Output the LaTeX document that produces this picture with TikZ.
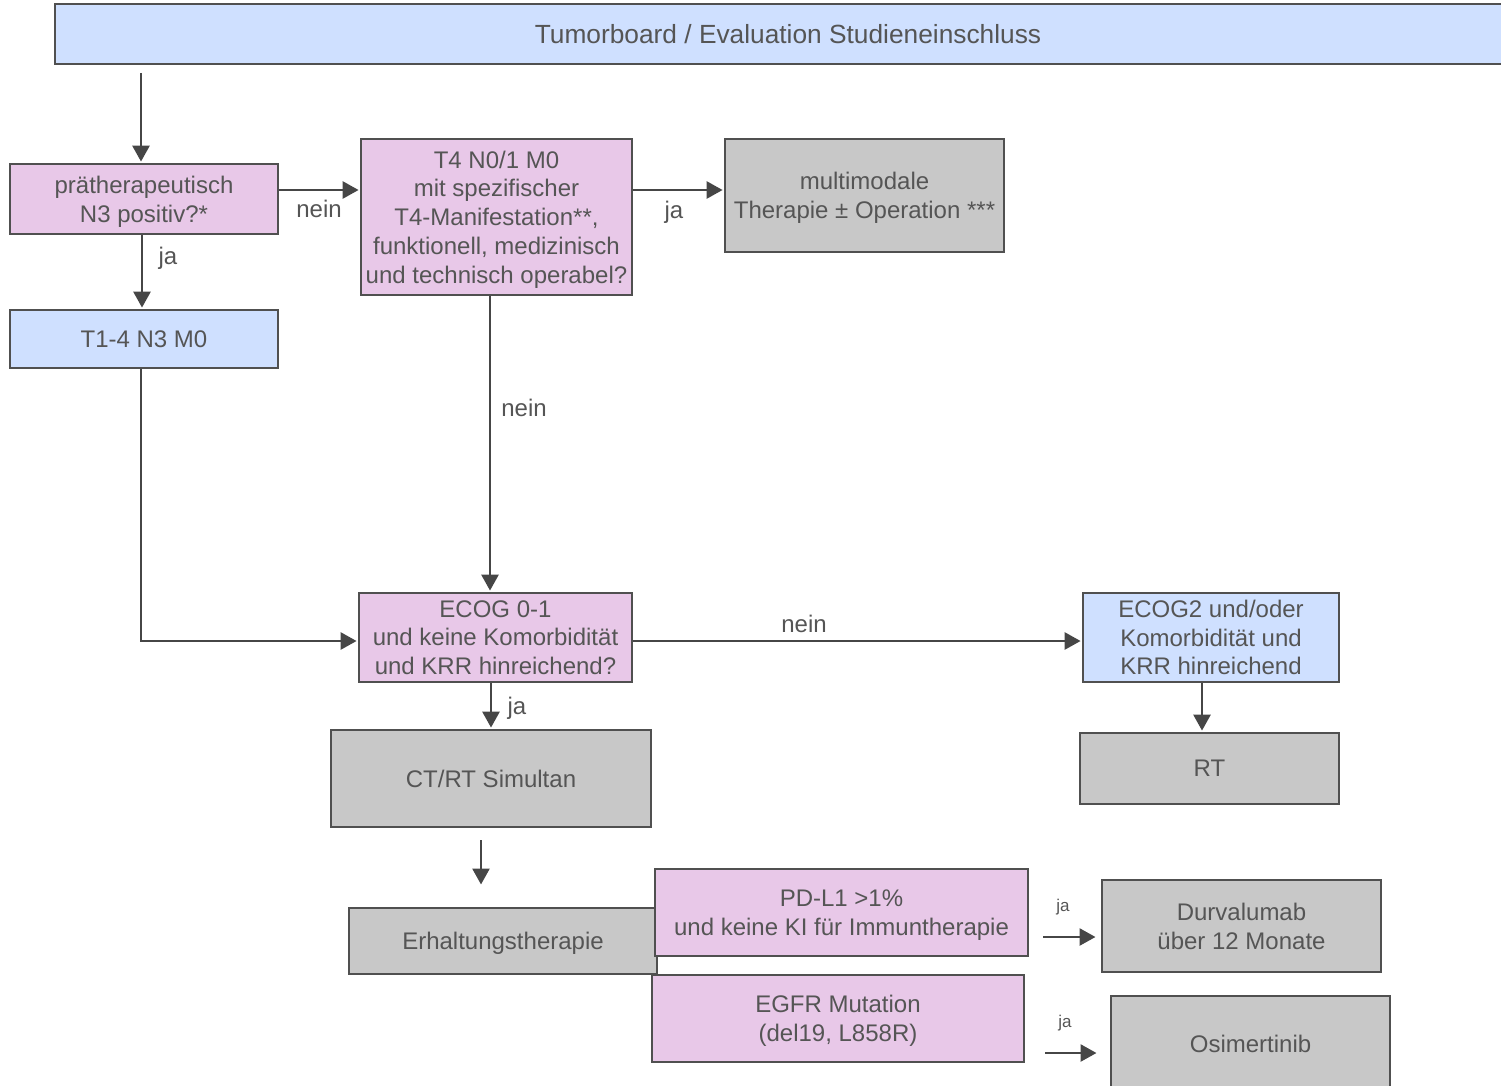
\documentclass[tikz,border=0pt]{standalone}
\usepackage{fontspec}
\setmainfont{Liberation Sans}
\usetikzlibrary{arrows.meta,calc}
\definecolor{boxblue}{RGB}{207,224,255}
\definecolor{boxpink}{RGB}{232,200,232}
\definecolor{boxgray}{RGB}{200,200,200}
\definecolor{ink}{RGB}{80,80,80}
\definecolor{wire}{RGB}{70,70,70}
\definecolor{txt}{RGB}{85,85,85}
\begin{document}
\begin{tikzpicture}[x=1pt,y=-1pt,
  box/.style={draw=ink,line width=1.8pt,inner sep=0pt,align=center,text=txt,
    text depth=0pt,font=\fontsize{24}{28.7}\selectfont},
  bluebox/.style={box,fill=boxblue},
  pinkbox/.style={box,fill=boxpink},
  graybox/.style={box,fill=boxgray},
  sz/.style 2 args={minimum width=#1pt,minimum height=#2pt},
  arr/.style={draw=wire,line width=2.7pt,shorten >=1.5pt,-{Triangle[length=16pt,width=17pt]}},
  lbl/.style={text=txt,inner sep=0pt,font=\fontsize{24}{28}\selectfont},
  minilbl/.style={text=txt,inner sep=0pt,font=\fontsize{17}{20}\selectfont}]
\useasboundingbox (0,0) rectangle (1501,1086);
\clip (0,0) rectangle (1501,1086);

% boxes
\node[bluebox,sz={1466}{60},font=\fontsize{26.3}{30}\selectfont] (board) at (788,34)
  {Tumorboard / Evaluation Studieneinschluss};
\node[pinkbox,sz={268}{70}] (pra) at (144,199) {prätherapeutisch\\N3 positiv?*};
\node[bluebox,sz={268}{58}] (tn3) at (144,339) {T1-4 N3 M0};
\node[pinkbox,sz={271}{156}] (tfour) at (496.5,217)
  {T4 N0/1 M0\\mit spezifischer\\T4-Manifestation**,\\funktionell, medizinisch\\und technisch operabel?};
\node[graybox,sz={279}{113}] (multi) at (864.5,195.5) {multimodale\\Therapie ± Operation ***};
\node[pinkbox,sz={273}{89}] (ecog) at (495.5,637.5)
  {ECOG 0-1\\und keine Komorbidität\\und KRR hinreichend?};
\node[bluebox,sz={256}{89}] (ecogz) at (1211,637.5)
  {ECOG2 und/oder\\Komorbidität und\\KRR hinreichend};
\node[graybox,sz={320}{97}] (ctrt) at (491,778.5) {CT/RT Simultan};
\node[graybox,sz={259}{71}] (rt) at (1209.5,768.5) {RT};
\node[graybox,sz={308}{66}] (erh) at (503,941) {Erhaltungstherapie};
\node[pinkbox,sz={373}{87}] (pdl) at (841.5,912.5) {PD-L1 >1\%\\und keine KI für Immuntherapie};
\node[pinkbox,sz={372}{87}] (egfr) at (838,1018.5) {EGFR Mutation\\(del19, L858R)};
\node[graybox,sz={279}{92}] (durva) at (1241.5,926) {Durvalumab\\über 12 Monate};
\node[graybox,sz={279}{96}] (osi) at (1250.5,1044) {Osimertinib};

% free arrow ends
\coordinate (s0) at (141,73);
\coordinate (c1) at (481,840);
\coordinate (c2) at (481,886);
\coordinate (j1a) at (1043,937);
\coordinate (j1b) at (1097,937);
\coordinate (j2a) at (1045,1053);
\coordinate (j2b) at (1098,1053);

% connectors
\draw[arr] (s0) -- (s0 |- pra.north);
\draw[arr] ([yshift=9pt]pra.east) -- ([yshift=9pt]pra.east -| tfour.west);
\draw[arr] ([xshift=-2pt]pra.south) -- ([xshift=-2pt]pra.south |- tn3.north);
\draw[arr] ([yshift=5.5pt]multi.west -| tfour.east) -- ([yshift=5.5pt]multi.west);
\draw[arr] ([xshift=-6.5pt]tfour.south) -- ([xshift=-6.5pt]tfour.south |- ecog.north);
\draw[arr] ([xshift=-3pt]tn3.south) |- ([yshift=-3.5pt]ecog.west);
\draw[arr] ([yshift=-3.5pt]ecog.east) -- ([yshift=-3.5pt]ecog.east -| ecogz.west);
\draw[arr] (ecog.south -| ctrt.north) -- (ctrt.north);
\draw[arr] ([xshift=-9pt]ecogz.south) -- ([xshift=-9pt]ecogz.south |- rt.north);
\draw[arr] (c1) -- (c2);
\draw[arr] (j1a) -- (j1b);
\draw[arr] (j2a) -- (j2b);

% branch labels
\node[lbl] (l1) at (319,209) {nein};
\node[lbl] (l2) at (168,258) {ja};
\node[lbl] (l3) at (674,212) {ja};
\node[lbl] (l4) at (524,408) {nein};
\node[lbl] (l5) at (804,624) {nein};
\node[lbl] (l6) at (517,708) {ja};
\node[minilbl] (l7) at (1063,907) {ja};
\node[minilbl] (l8) at (1065,1023) {ja};
\end{tikzpicture}
\end{document}
